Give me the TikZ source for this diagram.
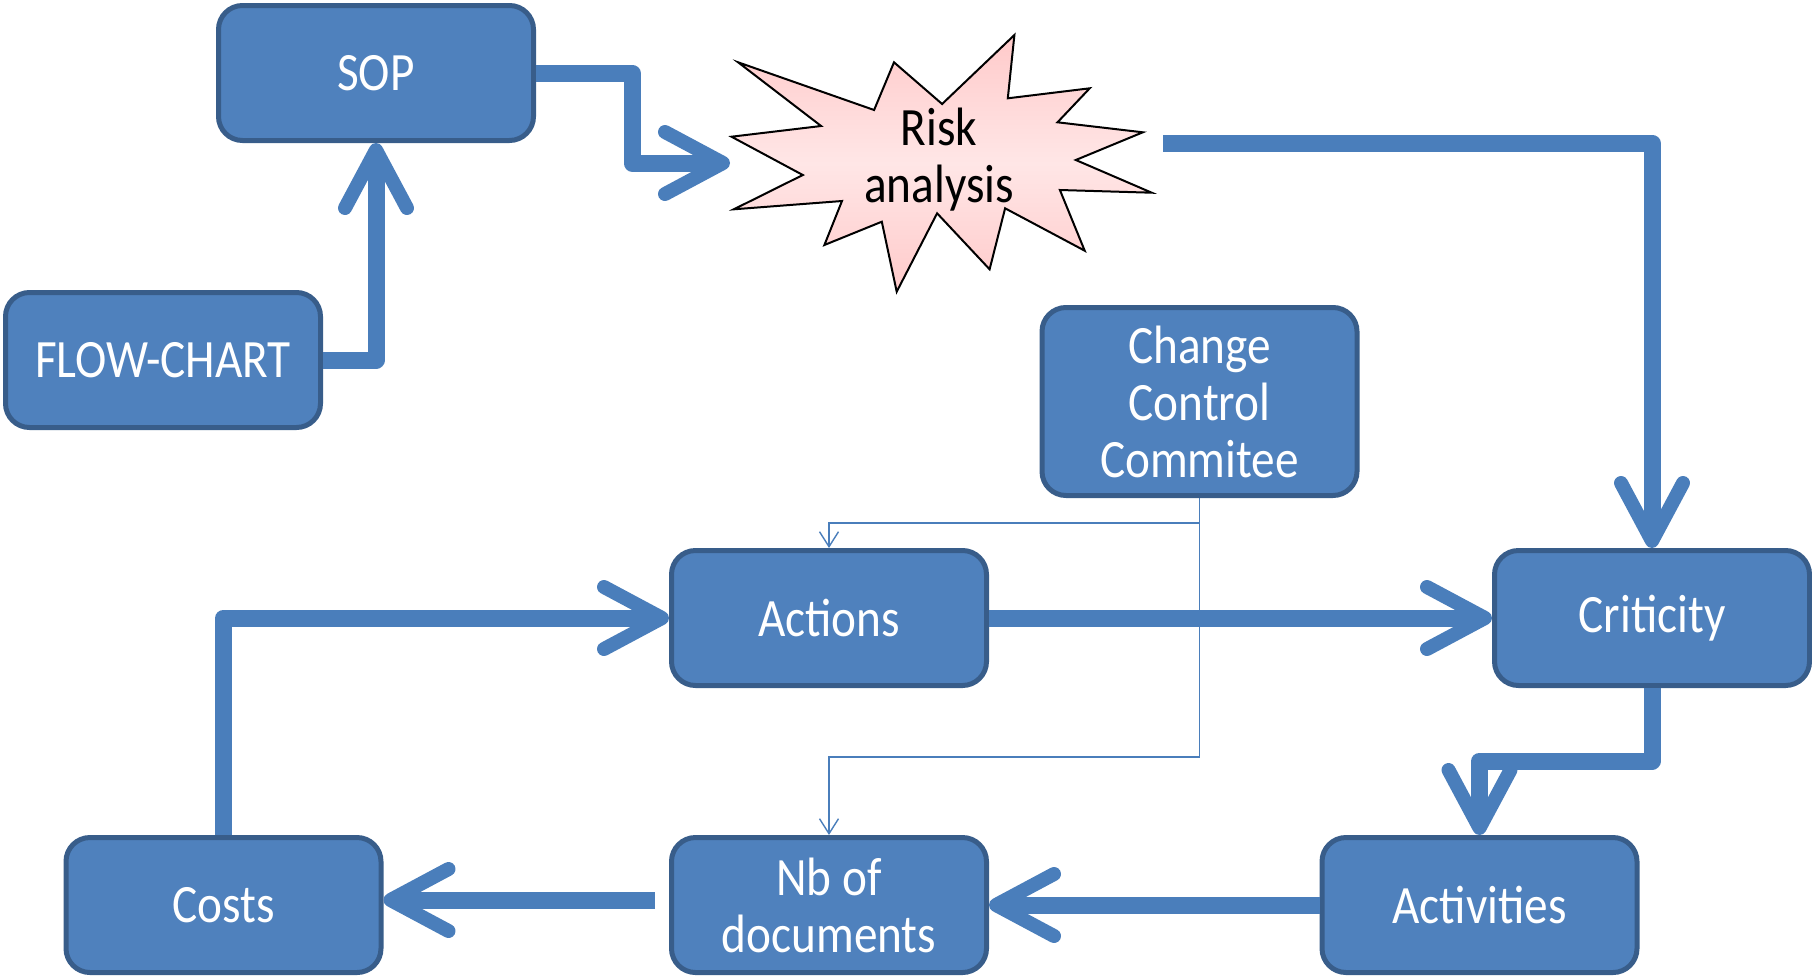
\documentclass[tikz,border=0pt]{standalone}
\usepackage{fontspec}
\newfontfamily\boxfont[FakeStretch=0.875]{Carlito}
\usetikzlibrary{arrows.meta}
\definecolor{boxfill}{HTML}{4F81BD}
\definecolor{boxline}{HTML}{385D8A}
\definecolor{flowblue}{HTML}{4A7EBB}
\definecolor{pinkedge}{HTML}{FFCACA}
\definecolor{pinkmid}{HTML}{FFE6E6}

\begin{document}
\begin{tikzpicture}[x=1pt,y=-1pt,
  stepbox/.style={draw=boxline, line width=5pt, fill=boxfill, rounded corners=24pt,
    minimum width=315pt, minimum height=135pt, text=white, align=center, inner sep=0pt,
    font=\boxfont\fontsize{54pt}{57pt}\selectfont},
  bigflow/.style={draw=flowblue, line width=17pt, line join=round,
    -{Straight Barb[length=58pt,width=62pt,line width=14pt,round]}},
  thinflow/.style={draw=flowblue, line width=1.4pt,
    -{Straight Barb[length=15pt,width=19pt,line width=1.4pt]}},
  burst/.style={draw=black, line width=2pt, line join=miter,
    top color=pinkedge, bottom color=pinkedge, middle color=pinkmid},
  bursttext/.style={text=black, align=center, inner sep=0pt,
    font=\boxfont\fontsize{54pt}{57pt}\selectfont},
]
\useasboundingbox (0,0) rectangle (1812,975);

% process boxes
\node[stepbox] (sop)   at (376,73)   {SOP};
\node[stepbox] (flow)  at (163,360)  {FLOW-CHART};
\node[stepbox, minimum height=188pt] (ccc) at (1199.5,401.5) {Change\\Control\\Commitee};
\node[stepbox] (act)   at (829,618)  {Actions};
\node[stepbox] (crit)  at (1652,618) {Criticity};
\node[stepbox] (costs) at (223.5,905) {Costs};
\node[stepbox] (nb)    at (829,905)  {Nb of\\documents};
\node[stepbox] (actv)  at (1479.5,905) {Activities};

% risk analysis burst
\draw[burst] (738.1,62.3) -- (874.1,110) -- (894,62.3) -- (942.1,104)
  -- (1014.4,35) -- (1007.8,98.3) -- (1089.7,88.3) -- (1057.5,122.3)
  -- (1142.8,132.3) -- (1075.8,160) -- (1151.7,192.7) -- (1059.9,190)
  -- (1084.7,250.7) -- (1005.1,208.3) -- (989.6,269.3) -- (937.1,213.3)
  -- (896.7,291.7) -- (881.8,221.7) -- (824.4,245) -- (842,201)
  -- (733.8,209.3) -- (802.8,175) -- (731.5,136.7) -- (821.1,126) -- cycle;
\node[bursttext] (risk) at (939,160) {Risk\\analysis};
\coordinate (riskin)  at (730,163);
\coordinate (riskout) at (1163,143);

% main flow
\draw[bigflow] (flow.east) -| (sop.south);
\draw[bigflow] (sop.east) -- ++(96,0) |- (riskin);
\draw[bigflow] (riskout) -| (crit.north);
\draw[bigflow] (act.east) -- (crit.west);
\draw[bigflow] (crit.south) -- ++(0,73) -| (actv.north);
\draw[bigflow] (actv.west) -- (nb.east);
\draw[bigflow, shorten <=14pt] ([yshift=5pt]nb.west) -- ([yshift=5pt]costs.east);
\draw[bigflow] (costs.north) |- (act.west);

% committee links
\draw[thinflow] (ccc.south) -- ++(0,25) -| (act.north);
\draw[thinflow] (ccc.south) -- ++(0,259) -| (nb.north);
\end{tikzpicture}
\end{document}
